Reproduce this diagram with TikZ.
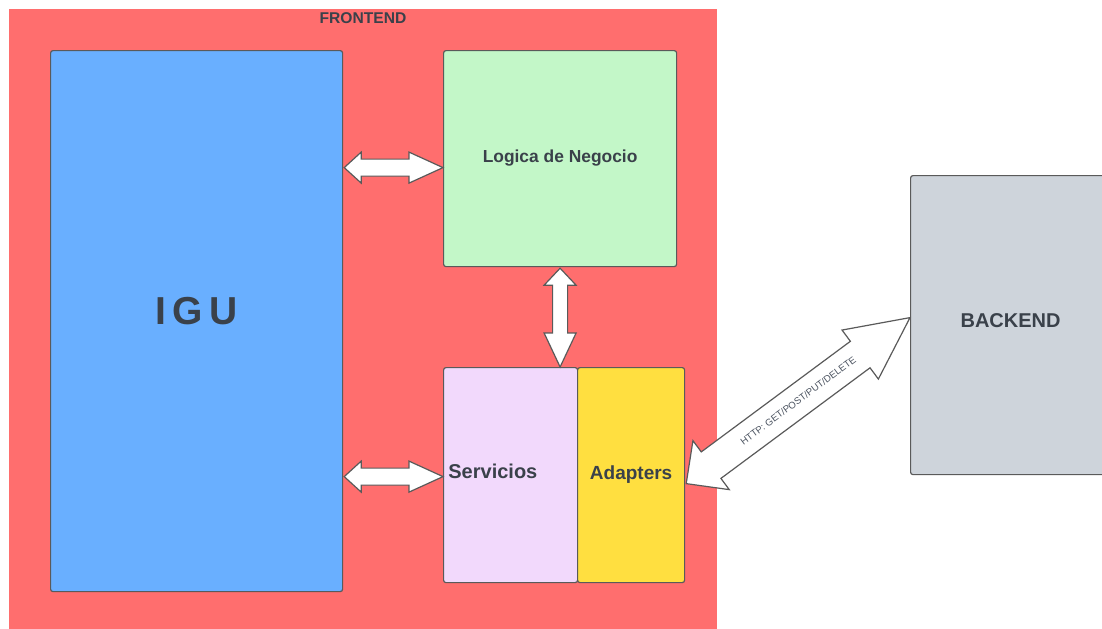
\documentclass[tikz,border=0pt]{standalone}
\usepackage{fontspec}
\setmainfont{Liberation Sans}
\usetikzlibrary{calc}

\definecolor{frontred}{HTML}{FF6E6E}
\definecolor{igublue}{HTML}{69AFFF}
\definecolor{logicgreen}{HTML}{C3F7C8}
\definecolor{servlilac}{HTML}{F2D9FC}
\definecolor{adaptyellow}{HTML}{FFDF40}
\definecolor{backgray}{HTML}{CED4DB}
\definecolor{inkdark}{HTML}{3A414A}
\definecolor{edgegray}{HTML}{5A5A5A}
\definecolor{labelgray}{HTML}{4B5360}

\tikzset{
  box/.style={draw=edgegray, line width=0.6pt, rounded corners=1.2pt,
              inner sep=0pt, anchor=north west},
  lbl/.style={text=inkdark, inner sep=0pt, font=\bfseries},
  blockarrow/.style={draw=edgegray, fill=white, line width=0.6pt, line join=miter},
}

% Fat double-headed arrow between two points:
% #1 start, #2 end, #3 half shaft width, #4 half head width, #5 head length, #6 label
\newcommand\fatarrow[6]{%
  \draw[blockarrow] let \p1=(#1), \p2=(#2),
      \n1={atan2(\y2-\y1,\x2-\x1)}, \n2={veclen(\x2-\x1,\y2-\y1)}
    in [shift={(\p1)}, rotate=\n1]
      (0,0) -- (#5,#4) -- (#5,#3) -- ({\n2-#5},#3) -- ({\n2-#5},#4) -- ({\n2},0)
      -- ({\n2-#5},-#4) -- ({\n2-#5},-#3) -- (#5,-#3) -- (#5,-#4) -- cycle
      ({\n2/2},0) node[transform shape, inner sep=0pt, text=labelgray,
                       font=\fontsize{4.8}{5.5}\selectfont] {#6};%
}

\begin{document}
\begin{tikzpicture}[x=0.5pt, y=-0.5pt]
  \useasboundingbox (0,0) rectangle (1102,628);
  \clip (0,0) rectangle (1102,628);
  \fill[white] (0,0) rectangle (1102,628);

  % frontend container
  \node[anchor=north west, inner sep=0pt, fill=frontred,
        minimum width=354pt, minimum height=320pt] (Frontend) at (9,9) {};
  \node[lbl, font=\bfseries\fontsize{7.8}{9}\selectfont] (FrontTitle) at (363,18) {FRONTEND};

  % components
  \node[box, fill=igublue, minimum width=146pt, minimum height=270.5pt] (IGU) at (50,50) {};
  \node[box, fill=logicgreen, minimum width=116.5pt, minimum height=108pt] (Logica) at (443,50) {};
  \node[box, fill=servlilac, minimum width=67pt, minimum height=107.5pt] (Servicios) at (443,367) {};
  \node[box, fill=adaptyellow, minimum width=53.5pt, minimum height=107.5pt] (Adapters) at (577,367) {};
  \node[box, fill=backgray, minimum width=100pt, minimum height=149.5pt] (Backend) at (910,175) {};

  % texts
  \node[lbl, font=\bfseries\fontsize{19.5}{22}\selectfont] (IGUtext)
       at ($(IGU.center)+(0,-10)$) {I\kern3pt G\kern3pt U};
  \node[lbl, font=\bfseries\fontsize{8.7}{10}\selectfont] (LogicaText)
       at ($(Logica.center)+(0,-1)$) {Logica de Negocio};
  \node[lbl, anchor=west, font=\bfseries\fontsize{10}{12}\selectfont] (ServText)
       at ($(Servicios.west)+(5,-4)$) {Servicios};
  \node[lbl, font=\bfseries\fontsize{9.5}{11}\selectfont] (AdaptText)
       at ($(Adapters.center)+(0,-1)$) {Adapters};
  \node[lbl, font=\bfseries\fontsize{10}{12}\selectfont] (BackText)
       at ($(Backend.center)+(0,-4)$) {BACKEND};

  % connectors
  \fatarrow{$(IGU.east|-Logica.west)+(1,9)$}{$(Logica.west)+(0,9)$}{8.5}{15.5}{17}{}
  \fatarrow{$(IGU.east|-Servicios.west)+(1,1.5)$}{$(Servicios.west)+(0,1.5)$}{8.5}{15.5}{17}{}
  \fatarrow{$(Logica.south)+(0,1)$}{$(Logica.south|-Servicios.north)$}{7.5}{16}{17}{}
  \fatarrow{$(Adapters.east)+(1,8.5)$}{$(Backend.west)+(0,-7.5)$}{16.5}{30.5}{31}{HTTP: GET/POST/PUT/DELETE}
\end{tikzpicture}
\end{document}
